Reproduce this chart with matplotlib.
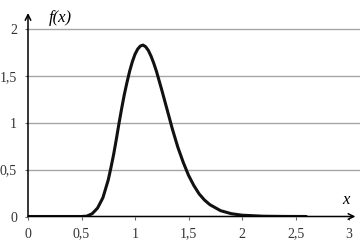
import matplotlib.pyplot as plt
from matplotlib.ticker import FuncFormatter

# valores
x = [0, 0.5, 0.55, 0.6, 0.65, 0.7, 0.75, 0.775, 0.8, 0.825, 0.85, 0.875, 0.9,
     0.925, 0.95, 0.975, 1.0, 1.025, 1.05, 1.075, 1.1, 1.125, 1.15, 1.175, 1.2,
     1.225, 1.25, 1.275, 1.3, 1.35, 1.4, 1.45, 1.5, 1.55, 1.6, 1.65, 1.7, 1.8,
     1.9, 2.0, 2.2, 2.4, 2.6]
fx = [0, 0, 0.004, 0.03, 0.09, 0.2, 0.39, 0.52, 0.66, 0.82, 0.99, 1.15, 1.3,
      1.43, 1.55, 1.65, 1.73, 1.785, 1.818, 1.828, 1.81, 1.77, 1.71, 1.635, 1.55,
      1.45, 1.35, 1.245, 1.14, 0.93, 0.74, 0.58, 0.44, 0.33, 0.24, 0.175, 0.126,
      0.062, 0.03, 0.014, 0.003, 0.0006, 0.0001]
xticks = [0, 0.5, 1, 1.5, 2, 2.5, 3]
yticks = [0, 0.5, 1, 1.5, 2]

plt.rcParams['font.family'] = 'Liberation Serif'

fig = plt.figure(figsize=(3.61, 2.52), dpi=100)
ax = fig.add_axes([28 / 361, 35.5 / 252, 331.7 / 361, 206.3 / 252])
ax.set_xlim(0, 3.1)
ax.set_ylim(0, 2.2)

for s in ax.spines.values():
    s.set_visible(False)

for t in yticks[1:]:
    ax.axhline(t, color='#a6a6a6', lw=1, zorder=1)

ax.plot(x, fx, color='#111111', lw=2.2, solid_capstyle='round',
        solid_joinstyle='round', zorder=3)

# eixos com setas
ax.annotate('', xy=(3.06, 0), xytext=(0, 0),
            arrowprops=dict(arrowstyle='->', color='black', lw=1.1,
                            shrinkA=0, shrinkB=0), annotation_clip=False)
ax.annotate('', xy=(0, 2.17), xytext=(0, 0),
            arrowprops=dict(arrowstyle='->', color='black', lw=1.1,
                            shrinkA=0, shrinkB=0), annotation_clip=False)

fmt = FuncFormatter(lambda v, p: ('%g' % v).replace('.', ','))
ax.set_xticks(xticks)
ax.set_yticks(yticks)
ax.xaxis.set_major_formatter(fmt)
ax.yaxis.set_major_formatter(fmt)
ax.tick_params(axis='both', labelsize=10, labelcolor='#333333', color='#666666',
               length=2, width=0.8)
ax.tick_params(axis='x', pad=6)
ax.tick_params(axis='y', pad=6)

ax.text(0.19, 2.12, 'f(x)', style='italic', fontsize=12, ha='left', va='center')
ax.text(2.94, 0.18, 'x', style='italic', fontsize=12, ha='left', va='center')

fig.savefig('out.png', dpi=100)
